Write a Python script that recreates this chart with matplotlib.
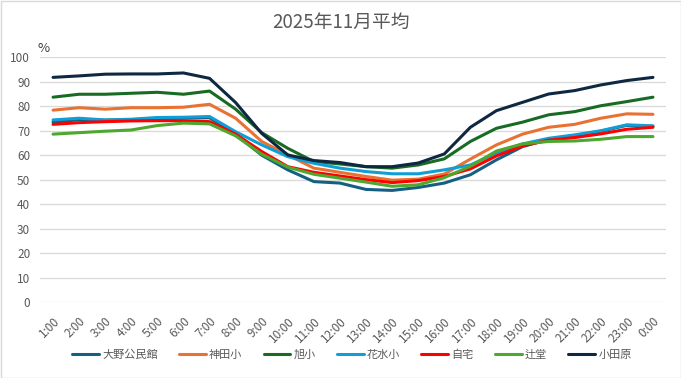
import matplotlib
matplotlib.use("Agg")
import matplotlib.pyplot as plt
from matplotlib.patches import Rectangle

plt.rcParams['font.family'] = ['Noto Sans CJK JP', 'DejaVu Sans']

hours = ["1:00", "2:00", "3:00", "4:00", "5:00", "6:00", "7:00", "8:00", "9:00", "10:00",
         "11:00", "12:00", "13:00", "14:00", "15:00", "16:00", "17:00", "18:00", "19:00",
         "20:00", "21:00", "22:00", "23:00", "0:00"]

ono = [73.5, 74.5, 74.3, 74.5, 75.0, 75.2, 75.3, 68.5, 60.0, 54.0, 49.2, 48.6,
       46.0, 45.6, 46.8, 48.6, 52.0, 58.1, 63.5, 66.5, 68.0, 69.8, 72.2, 71.8]
kanda = [78.4, 79.4, 78.8, 79.4, 79.4, 79.6, 80.8, 75.1, 65.6, 60.1, 54.7, 53.0,
         51.3, 49.8, 50.2, 52.3, 58.4, 64.2, 68.6, 71.4, 72.6, 75.1, 76.9, 76.7]
asahi = [83.7, 84.9, 84.9, 85.3, 85.7, 84.9, 86.2, 78.8, 69.2, 62.8, 57.4, 56.4,
         55.3, 54.7, 56.0, 58.5, 65.6, 71.0, 73.5, 76.5, 77.8, 80.2, 81.9, 83.7]
hanamizu = [74.4, 75.1, 74.4, 74.7, 75.4, 75.5, 75.8, 69.6, 64.2, 59.4, 56.7, 54.7,
            53.3, 52.4, 52.4, 54.0, 56.0, 60.8, 64.6, 66.9, 68.3, 70.0, 72.4, 72.0]
jitaku = [72.6, 73.3, 73.7, 74.0, 74.1, 74.1, 73.7, 68.6, 61.5, 55.3, 53.0, 51.5,
          50.0, 48.8, 49.6, 51.3, 54.4, 59.7, 63.8, 66.1, 67.2, 68.7, 70.6, 71.4]
tsujido = [68.6, 69.2, 69.8, 70.3, 72.1, 73.1, 72.8, 67.9, 60.4, 55.1, 52.2, 50.6,
           49.0, 47.3, 47.9, 50.8, 55.5, 61.7, 64.6, 65.6, 65.8, 66.5, 67.6, 67.6]
odawara = [91.8, 92.4, 93.1, 93.2, 93.2, 93.6, 91.4, 81.5, 68.9, 60.1, 57.8, 57.0,
           55.3, 55.3, 56.8, 60.5, 71.4, 78.2, 81.6, 85.0, 86.4, 88.7, 90.5, 91.8]

series_names = ["大野公民館", "神田小", "旭小", "花水小", "自宅", "辻堂", "小田原"]
series_values = [ono, kanda, asahi, hanamizu, jitaku, tsujido, odawara]
colors = ["#156082", "#E97132", "#196B24", "#0F9ED5", "#FF0000", "#4EA72E", "#0E2841"]

fig = plt.figure(figsize=(6.81, 3.78), dpi=100)
fig.patches.append(Rectangle((0.5 / 681, 0.5 / 378), 1 - 1.0 / 681, 1 - 1.0 / 378,
                             transform=fig.transFigure, fill=False,
                             edgecolor="#D9D9D9", linewidth=1.0))

ax = fig.add_axes([40 / 681, 1 - 302 / 378, 626 / 681, (302 - 57.3) / 378])
x = list(range(len(hours)))
for name, vals, c in zip(series_names, series_values, colors):
    ax.plot(x, vals, color=c, linewidth=2.2, label=name, solid_capstyle='round',
            solid_joinstyle='round')

ax.set_xlim(-0.5, len(hours) - 0.5)
ax.set_ylim(0, 100)
ax.set_yticks(range(0, 101, 10))
ax.set_xticks(x)
ax.set_xticklabels(hours, rotation=45, ha='right', rotation_mode='anchor')
ax.tick_params(axis='both', length=0, labelsize=8.5, labelcolor="#595959")
ax.tick_params(axis='y', pad=7)
ax.tick_params(axis='x', pad=9)
ax.grid(axis='y', color="#D9D9D9", linewidth=0.9)
ax.set_axisbelow(True)
for s in ax.spines.values():
    s.set_visible(False)

fig.text(341 / 681, 1 - 22 / 378, "2025年11月平均", ha='center', va='center',
         fontsize=13.5, color="#595959")
fig.text(37 / 681, 1 - 48 / 378, "%", ha='left', va='center', fontsize=9.5,
         color="#404040")

ax.legend(loc='center', bbox_to_anchor=(352 / 681, 1 - 355 / 378), bbox_transform=fig.transFigure,
          ncol=7, frameon=False, fontsize=8, labelcolor="#595959",
          handlelength=2.4, handletextpad=0.3, columnspacing=1.9)

fig.savefig("out.png", dpi=100)
